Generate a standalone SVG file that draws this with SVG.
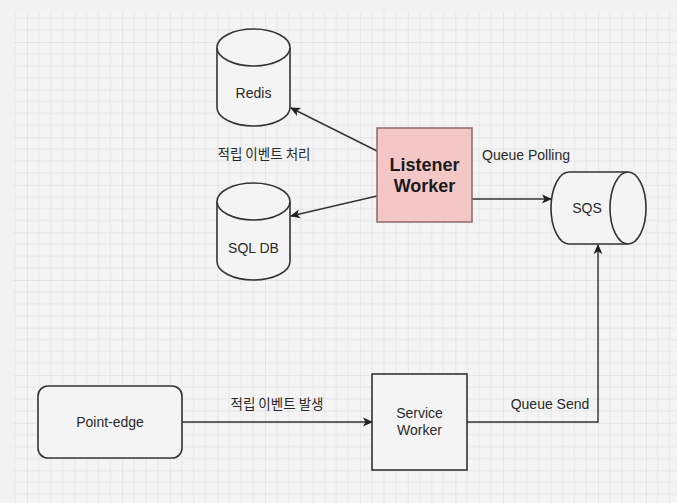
<svg xmlns="http://www.w3.org/2000/svg" width="677" height="503" viewBox="0 0 677 503">
<defs>
<pattern id="grid" patternUnits="userSpaceOnUse" x="27" y="42" width="47.6" height="47.6">
<path d="M11.9,0V47.6M23.8,0V47.6M35.7,0V47.6M0,11.9H47.6M0,23.8H47.6M0,35.7H47.6" stroke="#e6e6e6" stroke-width="1" fill="none"/>
<path d="M0,0V47.6M0,0H47.6" stroke="#d6d6d6" stroke-width="1" fill="none"/>
</pattern>
<marker id="arr" viewBox="0 0 10 10" refX="9" refY="5" markerWidth="10" markerHeight="10" markerUnits="userSpaceOnUse" orient="auto">
<path d="M0,0.5 L10,5 L0,9.5 L2.5,5 Z" fill="#222"/>
</marker>
<style>
.shape{fill:#f4f4f4;stroke:#333;stroke-width:1.6}
.lbl{font-family:"Liberation Sans",Arial,sans-serif;font-size:14px;fill:#2a2a2a;text-anchor:middle}
.kr{font-family:"Noto Sans CJK KR","Noto Sans",sans-serif;font-size:13.5px;fill:#2a2a2a;text-anchor:middle}
.edge{fill:none;stroke:#333;stroke-width:1.4}
</style>
</defs>
<rect x="0" y="0" width="677" height="503" fill="#f2f2f2"/>
<rect x="13" y="13" width="664" height="490" fill="#f4f4f4"/>
<rect x="13" y="13" width="664" height="490" fill="url(#grid)"/>

<g id="connectors">
<path class="edge" d="M377,151 L291,108" marker-end="url(#arr)"/>
<path class="edge" d="M377,196 L291,216" marker-end="url(#arr)"/>
<path class="edge" d="M472,199 L551,199" marker-end="url(#arr)"/>
<path class="edge" d="M182,422 L372,422" marker-end="url(#arr)"/>
<path class="edge" d="M467,422 H598 V245" marker-end="url(#arr)"/>
<text class="kr" x="264" y="159">적립 이벤트 처리</text>
<text class="lbl" x="482" y="160" style="text-anchor:start">Queue Polling</text>
<text class="kr" x="277" y="409">적립 이벤트 발생</text>
<text class="lbl" x="550" y="409">Queue Send</text>
</g>

<g id="redis">
<path class="shape" d="M217,47.5 A36.5,18.5 0 0 1 290,47.5 V107.5 A36.5,18.5 0 0 1 217,107.5 Z"/>
<path class="shape" d="M217,47.5 A36.5,18.5 0 0 0 290,47.5" fill="none"/>
<text class="lbl" x="253.5" y="98">Redis</text>
</g>

<g id="sqldb">
<path class="shape" d="M217,201.5 A36.5,18.5 0 0 1 290,201.5 V261.5 A36.5,18.5 0 0 1 217,261.5 Z"/>
<path class="shape" d="M217,201.5 A36.5,18.5 0 0 0 290,201.5" fill="none"/>
<text class="lbl" x="253.5" y="253">SQL DB</text>
</g>

<g id="listener">
<rect x="377" y="128" width="95" height="94" fill="#f4c7c7" stroke="#8a6a6a" stroke-width="1.5"/>
<text class="lbl" x="424.5" y="171" style="font-weight:bold;font-size:18px;fill:#1a1a1a">Listener</text>
<text class="lbl" x="424.5" y="192" style="font-weight:bold;font-size:18px;fill:#1a1a1a">Worker</text>
</g>

<g id="sqs">
<path class="shape" d="M569,172 H628 A18,36 0 0 1 628,244 H569 A18,36 0 0 1 569,172 Z"/>
<path class="shape" d="M628,172 A18,36 0 0 0 628,244" fill="none"/>
<text class="lbl" x="587" y="213">SQS</text>
</g>

<g id="pointedge">
<rect class="shape" x="38" y="386" width="144" height="72" rx="10" ry="10"/>
<text class="lbl" x="110" y="427">Point-edge</text>
</g>

<g id="service">
<rect class="shape" x="372" y="374" width="95" height="96"/>
<text class="lbl" x="419.5" y="418">Service</text>
<text class="lbl" x="419.5" y="435">Worker</text>
</g>
</svg>
